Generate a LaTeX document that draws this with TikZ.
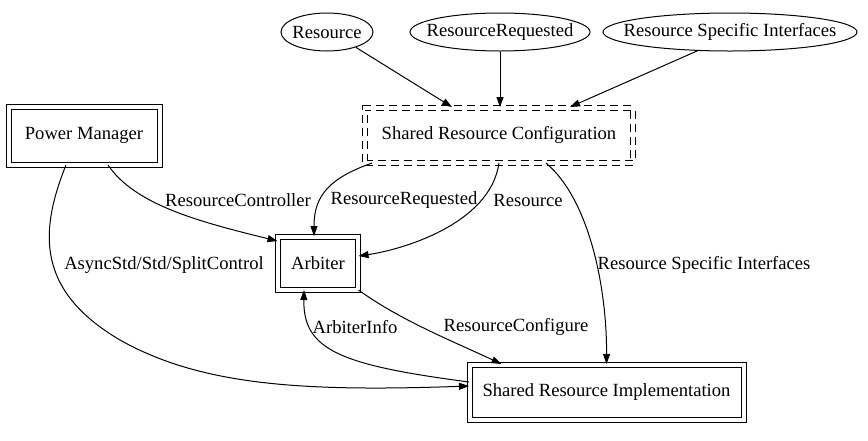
\documentclass[tikz,border=0pt]{standalone}
\usepackage{fontspec}
\setmainfont{Liberation Serif}
\usetikzlibrary{arrows.meta,shapes.geometric}
\begin{document}
\begin{tikzpicture}[x=1pt, y=-1pt, font=\fontsize{18.6}{22}\selectfont,
	iface/.style={draw, ellipse, line width=1pt, inner sep=0pt, minimum height=38pt},
	comp/.style={draw, double, double distance=4pt, line width=1pt, inner sep=0pt},
	cfg/.style={comp, dash pattern=on 8pt off 5pt},
	edge/.style={-{Triangle[length=10pt, width=7pt]}, line width=1pt},
	elabel/.style={inner sep=0pt}]
	\useasboundingbox (0, 0) rectangle (868, 440);
	\node[iface, minimum width=92pt, label=center:Resource] (res) at (327, 32) {};
	\node[iface, minimum width=180pt, label=center:ResourceRequested] (rr) at (500, 32) {};
	\node[iface, minimum width=254pt, label=center:Resource Specific Interfaces] (rsi) at (730, 32) {};
	\node[cfg, minimum width=268pt, minimum height=55pt] (src) at (499, 135) {Shared Resource Configuration};
	\node[comp, minimum width=151pt, minimum height=58pt] (pm) at (84, 135.5) {Power Manager};
	\node[comp, minimum width=80pt, minimum height=53pt] (arb) at (318, 263) {Arbiter};
	\node[comp, minimum width=274pt, minimum height=55pt] (sri) at (606.5, 392) {Shared Resource Implementation};
	\draw[edge] (res.-28) -- ([xshift=-47pt]src.north);
	\draw[edge] (rr.south) -- (rr.south |- src.north);
	\draw[edge] (rsi.210) -- ([xshift=71pt]src.north);
	\draw[edge] ([xshift=24pt]pm.south) .. controls (135, 205) and (200, 222) .. ([yshift=22pt]arb.west);
	\draw[edge] ([xshift=-127pt]src.south) .. controls (330, 178) and (314, 195) .. ([xshift=-4pt]arb.north);
	\draw[edge] (src.south) .. controls (490, 225) and (400, 250) .. ([yshift=7pt]arb.east);
	\draw[edge] ([xshift=47pt]src.south) .. controls (590, 200) and (607, 290) .. (sri.north);
	\draw[edge] ([xshift=-18pt]pm.south) .. controls (40, 230) and (35, 290) .. (120, 340) .. controls (200, 385) and (300, 392) .. ([yshift=6pt]sri.west);
	\draw[edge] ([yshift=10pt]sri.west) .. controls (340, 365) and (303, 350) .. ([xshift=-14pt]arb.south);
	\draw[edge] (arb.south east) .. controls (400, 320) and (450, 340) .. ([xshift=-105pt]sri.north);
	\node[elabel] (lctrl) at (238, 200) {ResourceController};
	\node[elabel] (lreq) at (404, 200) {ResourceRequested};
	\node[elabel] (lres) at (528, 200) {Resource};
	\node[elabel] (lrsi) at (704, 265) {Resource Specific Interfaces};
	\node[elabel] (lsplit) at (164, 265) {AsyncStd/Std/SplitControl};
	\node[elabel] (linfo) at (355, 327) {ArbiterInfo};
	\node[elabel] (lconf) at (516, 327) {ResourceConfigure};
\end{tikzpicture}
\end{document}
